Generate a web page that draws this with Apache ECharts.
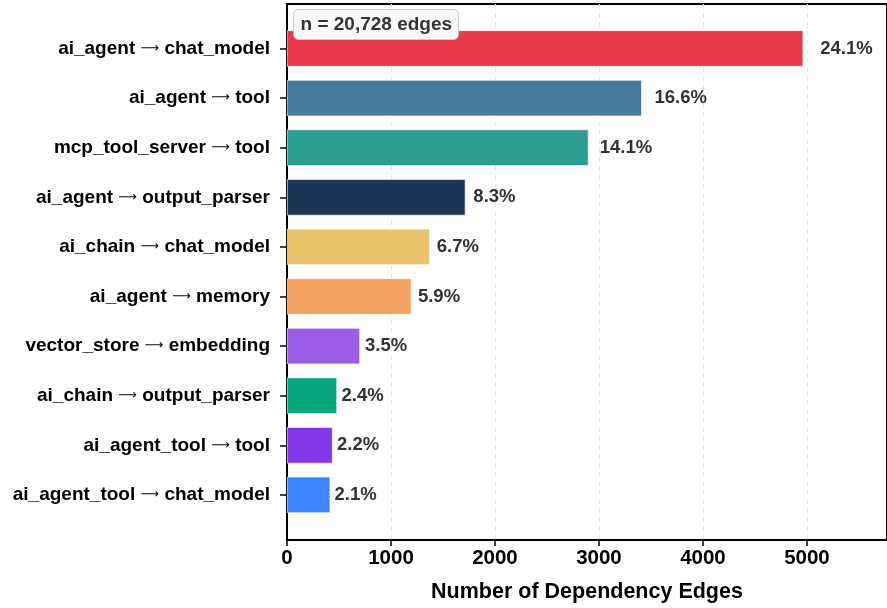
<!DOCTYPE html>
<html>
<head>
<meta charset="utf-8">
<script src="https://cdn.jsdelivr.net/npm/echarts@6/dist/echarts.min.js"></script>
<style>html,body{margin:0;padding:0;background:#fff}#c{width:887px;height:608px}</style>
</head>
<body>
<div id="c"></div>
<script>
const categories = ["ai_agent → chat_model","ai_agent → tool","mcp_tool_server → tool","ai_agent → output_parser","ai_chain → chat_model","ai_agent → memory","vector_store → embedding","ai_chain → output_parser","ai_agent_tool → tool","ai_agent_tool → chat_model"];
const values = [4965, 3413, 2900, 1717, 1375, 1198, 703, 482, 440, 417];
const percentLabels = ["24.1%","16.6%","14.1%","8.3%","6.7%","5.9%","3.5%","2.4%","2.2%","2.1%"];
const colors = ["#e63946","#457b9d","#2a9d8f","#1d3557","#e9c46a","#f4a261","#9b5de5","#06a77d","#8338ec","#3a86ff"];
const xTicks = [0,1000,2000,3000,4000,5000];
const totalEdges = "n = 20,728 edges";
const xMax = 5770;

const FONT = "Liberation Sans, Arial, sans-serif";
const chart = echarts.init(document.getElementById('c'), null, {renderer:'canvas'});

const data = values.map((v,i)=>({
  value: v,
  itemStyle: {color: colors[i]},
  label: {distance: 3 + v*0.0028}
}));

chart.setOption({
  animation:false,
  textStyle:{fontFamily:FONT},
  grid:[
    {left:287, right:0, top:4, height:538, show:true, borderColor:'#000', borderWidth:2, backgroundColor:'transparent'},
    {left:287, right:0, top:23.7, height:496}
  ],
  xAxis:[
    {gridIndex:0, type:'value', min:0, max:xMax, interval:1000,
     axisLine:{show:true, lineStyle:{color:'#000', width:2}},
     axisTick:{show:true, length:6, lineStyle:{color:'#000', width:1.5}},
     axisLabel:{showMaxLabel:false, color:'#000', fontWeight:'bold', fontSize:20.5, fontFamily:FONT, margin:8,
       formatter:(v)=> xTicks.indexOf(v)>=0 ? String(v) : ''},
     splitLine:{show:true, lineStyle:{color:'#e3e3e3', type:[5,4], width:1}},
     name:'Number of Dependency Edges', nameLocation:'middle', nameGap:41,
     nameTextStyle:{color:'#000', fontWeight:'bold', fontSize:21.5, fontFamily:FONT}},
    {gridIndex:1, type:'value', min:0, max:xMax, show:false}
  ],
  yAxis:[
    {gridIndex:0, type:'value', min:0, max:1, axisLine:{show:true, lineStyle:{color:'#000', width:2}},
     axisTick:{show:false}, axisLabel:{show:false}, splitLine:{show:false}},
    {gridIndex:1, type:'category', data:categories, inverse:true,
     axisLine:{show:false},
     axisTick:{show:true, alignWithLabel:true, length:7, lineStyle:{color:'#000', width:1.5}},
     axisLabel:{margin:17,
       formatter:(s)=>{ const p = s.split(' → '); return '{t|'+p[0]+' }{a|⟶}{t| '+p[1]+'}'; },
       rich:{
         t:{color:'#000', fontWeight:'bold', fontSize:19, fontFamily:FONT},
         a:{color:'#000', fontSize:13, fontWeight:'normal', fontFamily:'DejaVu Sans'}
       }},
     splitLine:{show:false}}
  ],
  series:[{
    type:'bar', xAxisIndex:1, yAxisIndex:1, data:data, barWidth:36.5,
    itemStyle:{borderColor:'rgba(255,255,255,0.8)', borderWidth:0.8},
    label:{show:true, position:'right', color:'#333', fontWeight:'bold', fontSize:18.5, fontFamily:FONT,
      formatter:(p)=>percentLabels[p.dataIndex]}
  }],
  graphic:[{
    type:'group', left:293, top:9, z:100,
    children:[
      {type:'rect', z:100, shape:{x:0,y:0,width:165,height:30,r:5}, style:{fill:'#f8f8f8', stroke:'#c8c8c8', lineWidth:1}},
      {type:'text', z:101, x:7, y:15, style:{text:totalEdges, fill:'#333', font:'bold 19px '+FONT, textVerticalAlign:'middle'}}
    ]
  }]
});
</script>
</body>
</html>
